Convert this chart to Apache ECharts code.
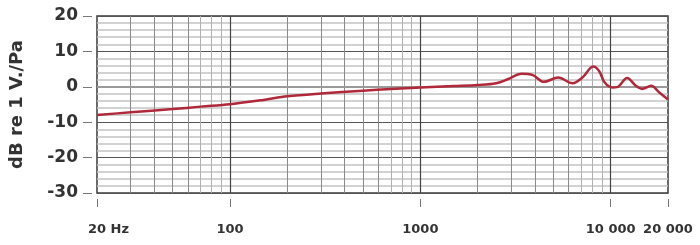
<!DOCTYPE html>
<html><head><meta charset="utf-8">
<script src="https://cdn.jsdelivr.net/npm/echarts@6/dist/echarts.min.js"></script>
<style>html,body{margin:0;padding:0;background:#fff}#c{width:700px;height:245px}</style>
</head><body><div id="c"></div>
<script>
// Frequency response data (Hz, dB re 1 V/Pa)
const freqs = [20, 30, 50, 70, 100, 150, 200, 300, 500, 700, 1000, 1500, 2000, 2500, 2900, 3400, 3900, 4450, 5300, 6300, 7100, 8100, 8700, 9300, 10200, 10800, 12200, 13500, 14600, 16300, 18000, 20000];
const levels = [-8.0, -7.2, -6.3, -5.6, -4.9, -3.7, -2.7, -1.9, -1.1, -0.65, -0.2, 0.2, 0.5, 1.0, 2.2, 3.7, 3.3, 1.4, 2.6, 1.0, 2.6, 5.7, 4.4, 1.2, -0.2, -0.1, 2.5, 0.4, -0.6, 0.3, -1.6, -3.6];
const xTickValues = [20, 100, 1000, 10000, 20000];
const xTickLabels = ['20 Hz', '100', '1000', '10 000', '20 000'];
const decadeLines = [100, 1000, 10000];
const minorLinesA = [30, 40, 50, 60, 200, 300, 400, 500, 600, 2000, 3000, 4000, 5000, 6000];
const minorLinesB = [70, 80, 90, 700, 800, 900, 7000, 8000, 9000];
const yTitle = 'dB re 1 V./Pa';

const font = 'DejaVu Sans';
const vLines = [];
minorLinesA.forEach(v => vLines.push({xAxis: v, lineStyle: {color: '#8a8a8a', width: 1, type: 'solid'}}));
minorLinesB.forEach(v => vLines.push({xAxis: v, lineStyle: {color: '#b0b0b0', width: 1, type: 'solid'}}));
decadeLines.forEach(v => vLines.push({xAxis: v, lineStyle: {color: '#444', width: 1.2, type: 'solid'}}));
vLines.push({yAxis: 0, lineStyle: {color: '#9a9a9a', width: 2, type: 'solid'}});

const fMin = xTickValues[0], fMax = xTickValues[xTickValues.length - 1];

const chart = echarts.init(document.getElementById('c'), null, {renderer: 'canvas'});
chart.setOption({
  animation: false,
  grid: {left: 97, right: 32, top: 16, bottom: 52, show: true, borderColor: '#3a3a3a', borderWidth: 1.5, backgroundColor: 'transparent'},
  xAxis: [{
    type: 'log', logBase: 10, min: fMin, max: fMax, offset: 6,
    axisLine: {show: false},
    axisTick: {show: false},
    axisLabel: {
      show: true, customValues: xTickValues, margin: 24,
      color: '#333', fontFamily: font, fontWeight: 'bold', fontSize: 13,
      formatter: function (v) {
        const i = xTickValues.indexOf(Math.round(v));
        const t = i >= 0 ? xTickLabels[i] : '';
        return i === 0 ? '{h|' + t + '}' : t;
      },
      rich: {h: {padding: [0, 0, 0, 23], color: '#333', fontFamily: font, fontWeight: 'bold', fontSize: 13}}
    },
    splitLine: {show: false}, minorTick: {show: false}, minorSplitLine: {show: false}
  }, {
    // decade (log10) axis used only to draw the tick marks below the frame
    type: 'value', position: 'bottom', min: Math.log10(fMin), max: Math.log10(fMax), offset: 6,
    axisLine: {show: false},
    axisTick: {show: true, length: 8, inside: false, customValues: xTickValues.map(v => Math.log10(v)), lineStyle: {color: '#777', width: 1}},
    axisLabel: {show: false},
    splitLine: {show: false}
  }],
  yAxis: {
    type: 'value', min: -30, max: 20, interval: 10, offset: 5,
    name: yTitle, nameLocation: 'middle', nameGap: 66, nameRotate: 90,
    nameTextStyle: {color: '#333', fontFamily: font, fontWeight: 'bold', fontSize: 18},
    axisLine: {show: false},
    axisTick: {show: true, length: 9, inside: false, lineStyle: {color: '#777', width: 1}},
    axisLabel: {margin: 14, color: '#333', fontFamily: font, fontWeight: 'bold', fontSize: 17},
    splitLine: {show: true, lineStyle: {color: '#555', width: 1}},
    minorTick: {show: false, splitNumber: 5},
    minorSplitLine: {show: true, lineStyle: {color: '#c4c4c4', width: 1.5}}
  },
  series: [
    {
      type: 'line', data: [], z: 1, silent: true, xAxisIndex: 0,
      markLine: {silent: true, symbol: ['none', 'none'], label: {show: false}, animation: false, data: vLines}
    },
    {
      type: 'line', z: 5, smooth: 0.35, showSymbol: false, symbol: 'none', xAxisIndex: 0,
      data: freqs.map((f, i) => [f, levels[i]]),
      lineStyle: {color: '#b0283a', width: 2.5}
    }
  ]
});
</script></body></html>
